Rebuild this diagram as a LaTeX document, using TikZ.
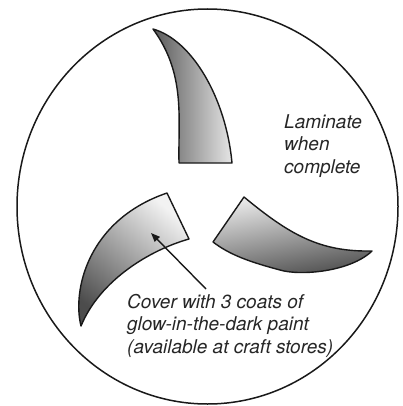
\documentclass[tikz,border=0pt]{standalone}
\usepackage{fontspec}
\setsansfont{TeX Gyre Heros}
\usetikzlibrary{arrows.meta}
\begin{document}
\begin{tikzpicture}[x=1pt,y=-1pt,
  outline/.style={draw=black!90, line width=1.4pt, line join=round},
  label/.style={font=\sffamily\itshape\fontsize{19}{22.5}\selectfont, text=black!85, align=left, inner sep=0pt, anchor=north west},
  pointer/.style={draw=black!90, line width=1.4pt, -{Triangle[length=9pt,width=7pt]}}]
\useasboundingbox (0,0) rectangle (402,406);
% plate
\draw[line width=1.5pt, black!90] (207.5,206.5) ellipse [x radius=190.5, y radius=197.5];
% top blade
\shade[outline, left color=black!65, right color=black!10]
  (153,29) .. controls (192,40) and (226,98) .. (232,163)
  -- (179,163) .. controls (178,118) and (186,74) .. cycle;
% left blade
\shade[outline, top color=black!5, bottom color=black!70, shading angle=-40]
  (167,193) -- (189,239)
  .. controls (150,250) and (100,280) .. (81,326)
  .. controls (72,290) and (88,220) .. cycle;
% right blade
\shade[outline, left color=black!8, right color=black!70, shading angle=10]
  (244,197) .. controls (290,235) and (320,252) .. (372,251)
  .. controls (350,272) and (300,276) .. (280,270)
  .. controls (250,262) and (230,255) .. (213,242) -- cycle;
% texts
\node[label] (laminate) at (284,114) {Laminate\\when\\complete};
\node[label] (cover) at (127,294) {Cover with 3 coats of\\glow-in-the-dark paint\\(available at craft stores)};
\coordinate (arrowtail) at (206,289);
\coordinate (arrowhead) at (151,233);
\draw[pointer] (arrowtail) -- (arrowhead);
\end{tikzpicture}
\end{document}
